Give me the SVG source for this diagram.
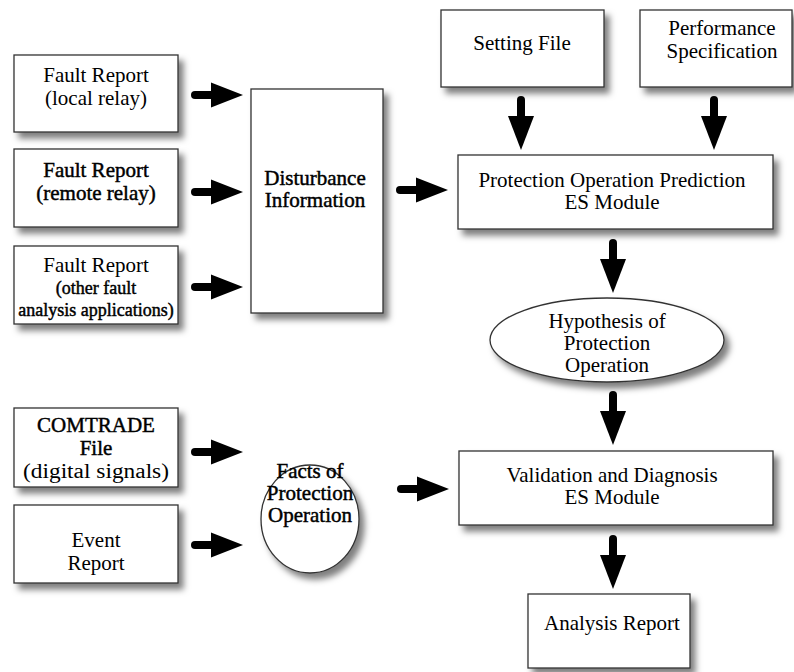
<svg xmlns="http://www.w3.org/2000/svg" width="794" height="672" viewBox="0 0 794 672">
<defs>
<filter id="sh" x="-20%" y="-20%" width="150%" height="150%">
<feDropShadow dx="5" dy="6" stdDeviation="3" flood-color="#000" flood-opacity="0.5"/>
</filter>
<g id="arR">
<line x1="4" y1="0" x2="24" y2="0" stroke="#000" stroke-width="8" stroke-linecap="round"/>
<polygon points="20,-12.5 52,0 20,12.5" fill="#000"/>
</g>
<g id="arD">
<line x1="0" y1="4" x2="0" y2="24" stroke="#000" stroke-width="8" stroke-linecap="round"/>
<polygon points="-13,20 0,54 13,20" fill="#000"/>
</g>
</defs>
<style>
.box{fill:#fff;stroke:#333;stroke-width:1.3;filter:url(#sh)}
text{font-family:'Liberation Serif','DejaVu Serif',serif;font-size:21px;fill:#000;text-anchor:middle}
.s{font-size:18px}
.b{stroke:#000;stroke-width:0.45}
</style>
<rect width="794" height="672" fill="#fff"/>

<g id="fr1"><rect class="box" x="14" y="55" width="164" height="77"/>
<text x="96" y="82">Fault Report</text><text x="96" y="105">(local relay)</text></g>

<g id="fr2"><rect class="box" x="14" y="149" width="164" height="78"/>
<text class="b" x="96" y="177">Fault Report</text><text class="b" x="96" y="200">(remote relay)</text></g>

<g id="fr3"><rect class="box" x="14" y="246" width="164" height="78"/>
<text x="96" y="272">Fault Report</text><text class="s b" x="96" y="294">(other fault</text><text class="s b" x="96" y="316">analysis applications)</text></g>

<g id="dist"><rect class="box" x="251" y="89" width="132" height="224"/>
<text class="b" x="315" y="185">Disturbance</text><text class="b" x="315" y="207">Information</text></g>

<g id="setting"><rect class="box" x="441" y="10" width="163" height="77"/>
<text x="522" y="50">Setting File</text></g>

<g id="perf"><rect class="box" x="640" y="10" width="152" height="77"/>
<text x="722" y="35">Performance</text><text x="722" y="58">Specification</text></g>

<g id="prop"><rect class="box" x="458" y="155" width="315" height="74"/>
<text x="612" y="187">Protection Operation Prediction</text><text x="612" y="209">ES Module</text></g>

<g id="hyp"><ellipse class="box" cx="607" cy="340" rx="117" ry="42"/>
<text x="607" y="328">Hypothesis of</text><text x="607" y="350">Protection</text><text x="607" y="372">Operation</text></g>

<g id="val"><rect class="box" x="459" y="451" width="314" height="74"/>
<text x="612" y="482">Validation and Diagnosis</text><text x="612" y="504">ES Module</text></g>

<g id="ana"><rect class="box" x="528" y="594" width="162" height="74"/>
<text x="612" y="630">Analysis Report</text></g>

<g id="comtrade"><rect class="box" x="14" y="408" width="164" height="79"/>
<text class="b" x="96" y="432">COMTRADE</text><text class="b" x="96" y="455">File</text><text x="96" y="478" style="font-size:20px" textLength="146" lengthAdjust="spacingAndGlyphs">(digital signals)</text></g>

<g id="event"><rect class="box" x="14" y="505" width="164" height="78"/>
<text x="96" y="547">Event</text><text x="96" y="570">Report</text></g>

<g id="facts"><ellipse class="box" cx="310" cy="519" rx="49" ry="54"/>
<text class="b" x="310" y="478">Facts of</text><text class="b" x="310" y="500">Protection</text><text class="b" x="310" y="522">Operation</text></g>

<g id="connectors">
<use href="#arR" x="191" y="95"/>
<use href="#arR" x="191" y="192"/>
<use href="#arR" x="191" y="287"/>
<use href="#arR" x="396" y="190"/>
<use href="#arR" x="191" y="452"/>
<use href="#arR" x="191" y="545"/>
<use href="#arR" x="397" y="489"/>
<use href="#arD" x="521" y="96"/>
<use href="#arD" x="714" y="96"/>
<use href="#arD" x="613" y="239"/>
<use href="#arD" x="613" y="391"/>
<use href="#arD" x="613" y="535"/>
</g>
</svg>
